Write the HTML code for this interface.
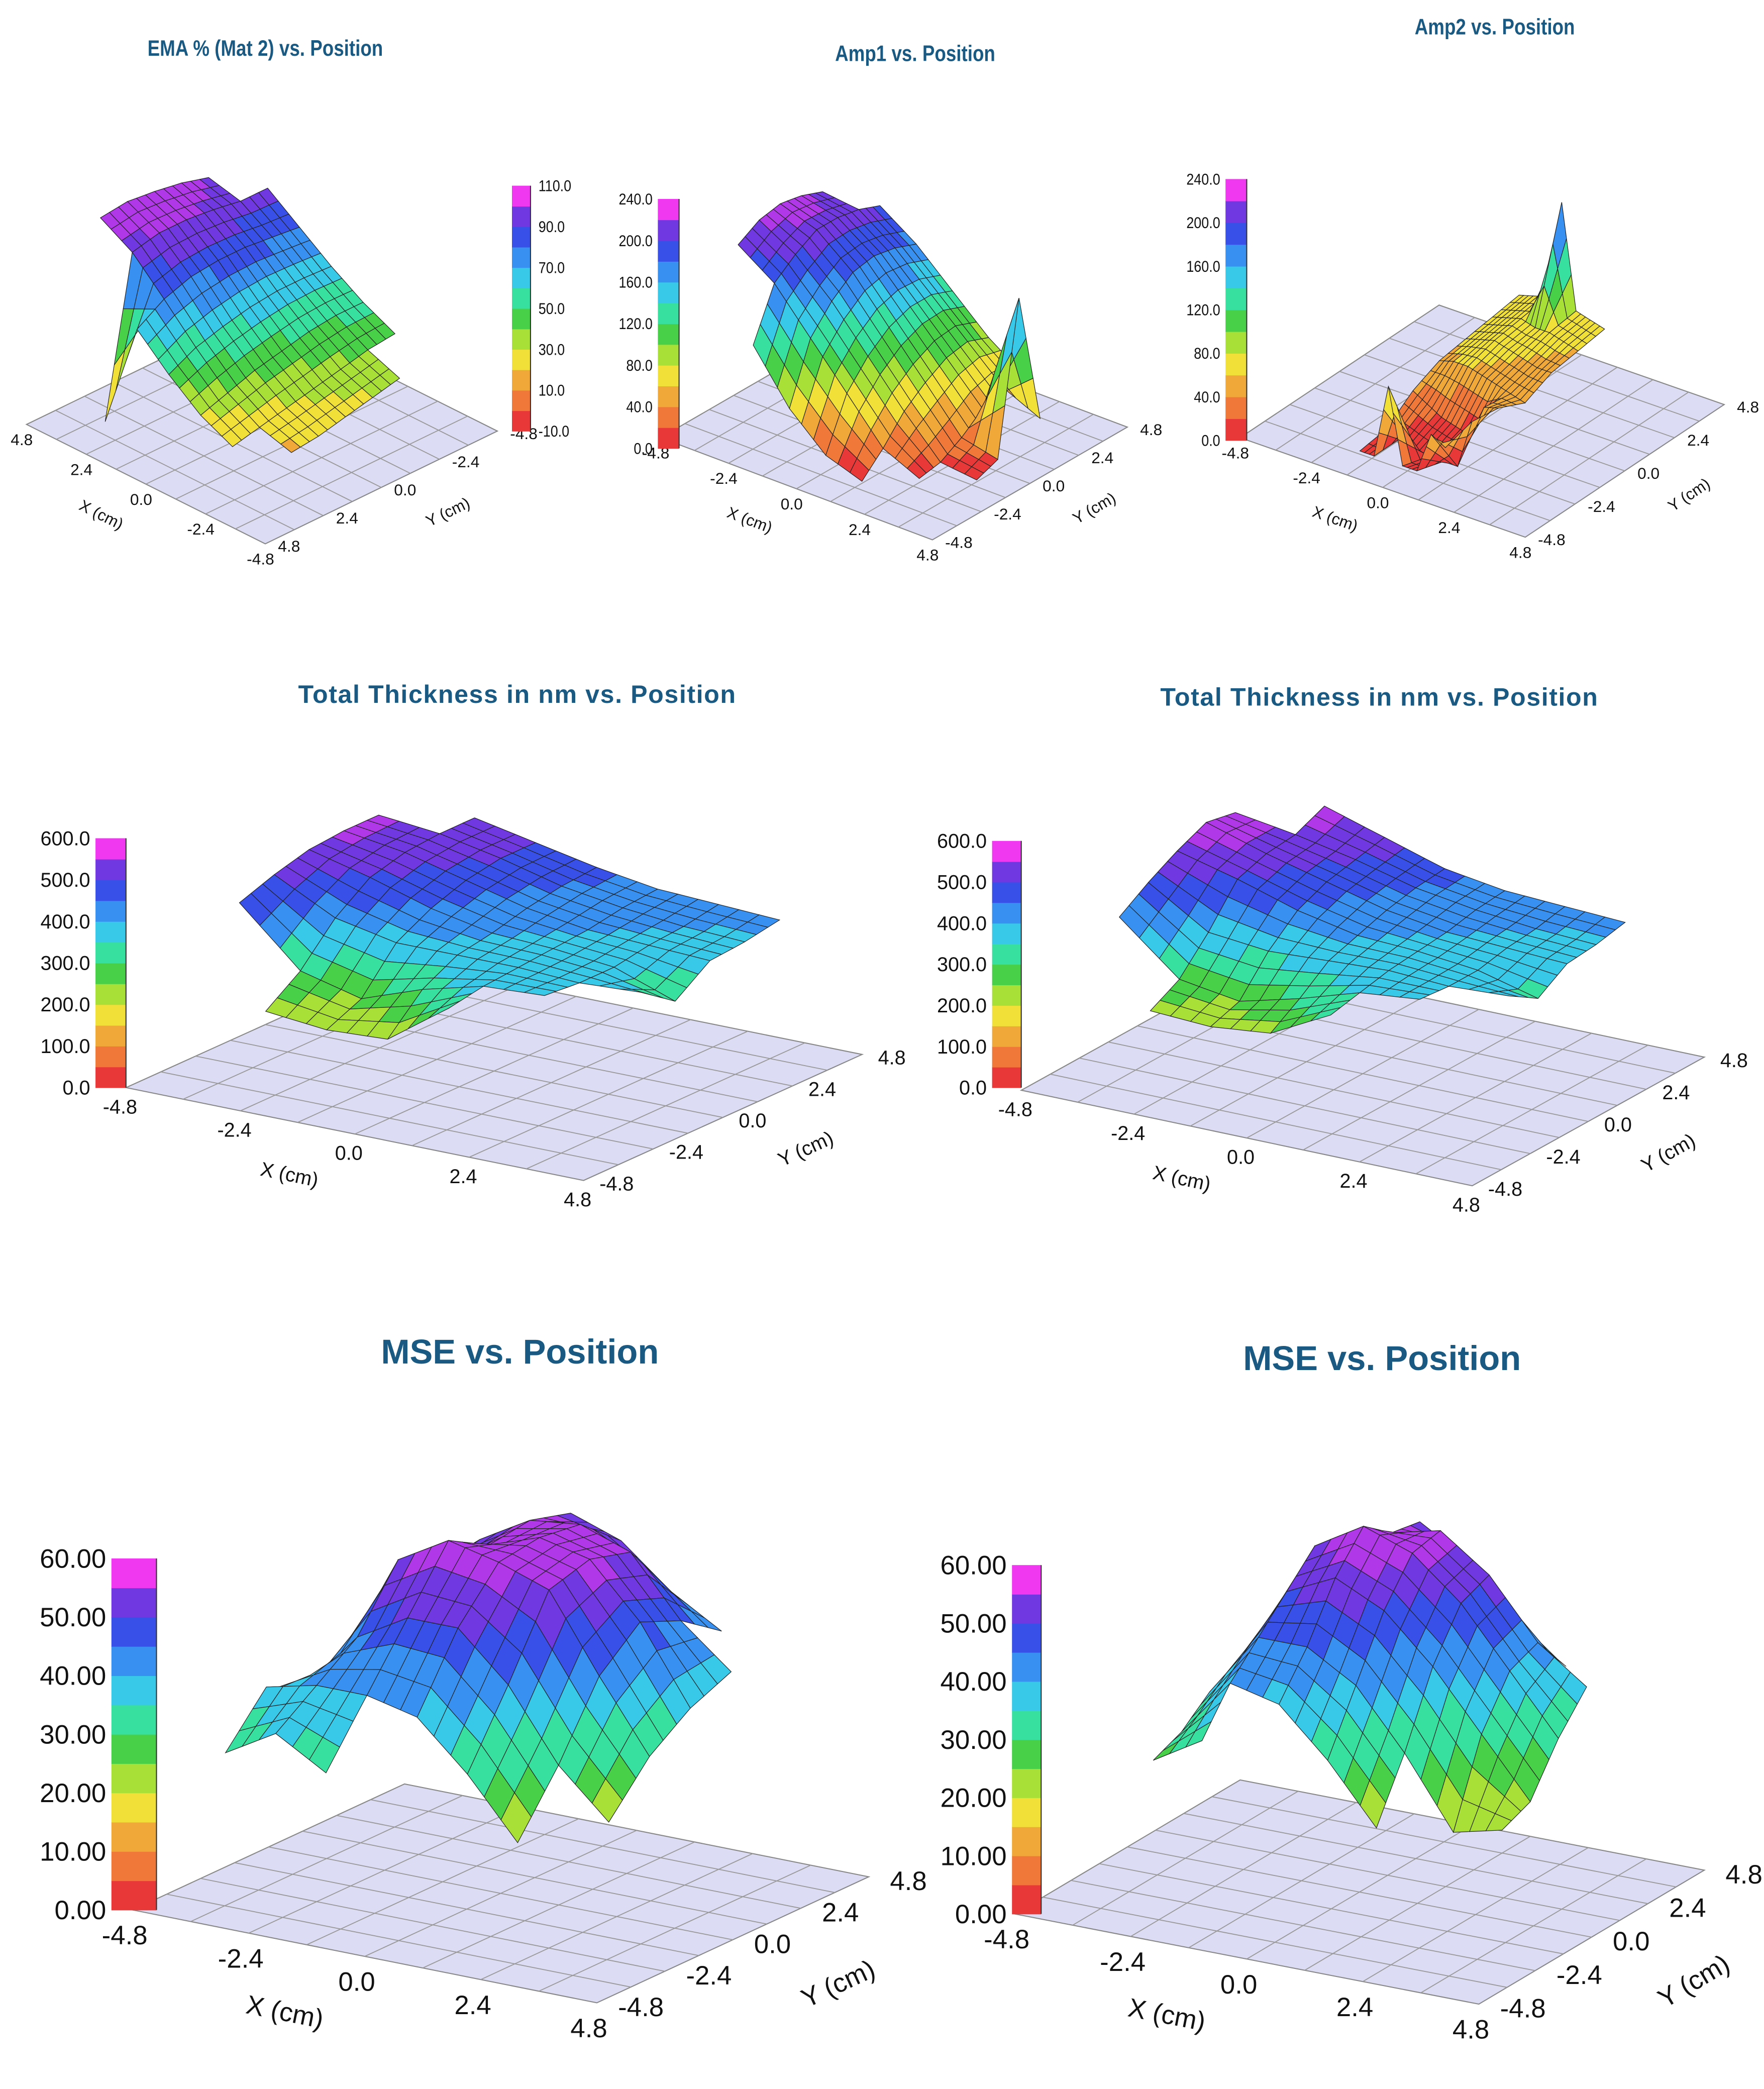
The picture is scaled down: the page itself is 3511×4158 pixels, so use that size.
<!DOCTYPE html>
<html><head><meta charset="utf-8">
<style>
html,body{margin:0;padding:0;background:#fff;}
svg{display:block;}
text{font-family:"Liberation Sans",sans-serif;}
</style></head>
<body>
<svg id="root" width="3511" height="4158" viewBox="0 0 1330 1575" preserveAspectRatio="none" xmlns="http://www.w3.org/2000/svg"></svg>
<script>
// ---- data (rows: back->left edge, cols: back->right edge) ----
const emaZ=[
[null,95,80,65,52,42,null],
[100,95,82,66,52,40,32],
[105,98,84,66,50,36,28],
[108,100,84,64,46,32,24],
[110,100,82,60,42,28,20],
[108,96,76,55,36,24,18],
[null,-5,65,46,30,20,null]];
const amp1Z=[
[null,200,170,130,90,60,null],
[215,210,180,140,100,60,40],
[225,215,185,140,95,50,200],
[230,215,180,130,80,30,20],
[225,200,160,110,60,15,10],
[210,180,130,80,30,10,null],
[null,120,60,20,5,null,null]];
const amp2Z=[
[70,75,80,200,75,70,65],
[65,70,75,70,70,65,60],
[60,65,70,65,60,55,55],
[55,60,60,55,50,45,40],
[40,30,20,15,10,50,55],
[15,10,5,0,0,0,60],
[10,10,100,10,10,60,50]];
const thick1Z=[
[null,540,500,460,430,420,410],
[560,540,500,450,420,400,390],
[560,530,480,430,400,390,380],
[550,500,440,400,390,370,300],
[520,420,380,380,380,370,380],
[480,300,250,320,370,380,null],
[null,220,200,210,350,null,null]];
const thick2Z=[
[null,580,520,460,430,420,410],
[570,540,500,450,420,400,390],
[590,530,480,430,400,390,380],
[550,500,440,400,390,370,320],
[500,380,360,370,380,370,380],
[440,280,250,300,360,380,null],
[null,230,220,240,340,null,null]];
const mse1Z=[
[null,50,55,52,45,40,null],
[45,52,57,58,55,45,38],
[40,50,56,59,57,48,35],
[38,55,60,58,55,42,30],
[35,45,50,50,42,30,22],
[38,40,40,38,30,20,null],
[30,35,30,null,null,null,null]];
const mse2Z=[
[null,45,55,50,40,35,null],
[40,50,56,58,52,42,36],
[38,55,60,57,50,40,30],
[36,50,54,50,42,32,22],
[34,45,45,40,30,18,20],
[30,40,38,30,20,null,null],
[28,33,null,null,null,null,null]];
const titles=["EMA % (Mat 2) vs. Position","Amp1 vs. Position","Amp2 vs. Position","Total Thickness in nm vs. Position","Total Thickness in nm vs. Position","MSE vs. Position","MSE vs. Position"];
const ticksA=["4.8","2.4","0.0","-2.4","-4.8"];
const ticksB=["-4.8","-2.4","0.0","2.4","4.8"];
const cbEma=["110.0","90.0","70.0","50.0","30.0","10.0","-10.0"];
const cbAmp=["240.0","200.0","160.0","120.0","80.0","40.0","0.0"];
const cbThick=["600.0","500.0","400.0","300.0","200.0","100.0","0.0"];
const cbMse=["60.00","50.00","40.00","30.00","20.00","10.00","0.00"];

const colors=["#e83838","#f07838","#f0a838","#f0e038","#a8e038","#48d048","#38e0a0","#38c8e8","#3890f0","#3850e8","#7038e0","#b038e8","#f038f0"];
const svg=document.getElementById('root');
const NS="http://www.w3.org/2000/svg";
function mk(tag,attrs,parent){const e=document.createElementNS(NS,tag);for(const k in attrs)e.setAttribute(k,attrs[k]);(parent||svg).appendChild(e);return e;}

const panels=[
{Z:emaZ,vmin:-10,vmax:110,back:[195,235],left:[20,320],right:[375,325],zs:140,ir:[0.15,0.85],jr:[0.05,0.85],cb:[386,140,14,185],cbT:cbEma,xT:ticksA,yT:ticksA,fs:12,title:[200,42,17,"condensed"]},
{Z:amp1Z,vmin:0,vmax:240,back:[645,245],left:[498,330],right:[850,322],zs:150,ir:[0.2,0.85],jr:[0.1,0.9],cb:[496,150,16,188],cbT:cbAmp,xT:ticksB,yT:ticksB,fs:12,title:[690,46,17,"condensed"]},
{Z:amp2Z,vmin:0,vmax:240,back:[1085,230],left:[935,330],right:[1300,305],zs:150,ir:[0.1,0.9],jr:[0.35,0.65],cb:[924,135,16,197],cbT:cbAmp,xT:ticksB,yT:ticksB,fs:12,title:[1127,26,17,"condensed"]},
{Z:thick1Z,vmin:0,vmax:600,back:[305,725],left:[95,820],right:[650,795],zs:140,ir:[0.05,0.8],jr:[0.05,0.85],cb:[72,632,23,188],cbT:cbThick,xT:ticksB,yT:ticksB,fs:15,title:[390,530,20,"wide"]},
{Z:thick2Z,vmin:0,vmax:600,back:[945,725],left:[770,822],right:[1285,797],zs:140,ir:[0.05,0.8],jr:[0.05,0.85],cb:[748,634,22,186],cbT:cbThick,xT:ticksB,yT:ticksB,fs:15,title:[1040,532,20,"wide"]},
{Z:mse1Z,vmin:0,vmax:60,back:[305,1345],left:[100,1440],right:[655,1415],zs:265,ir:[0.1,1.0],jr:[0.2,0.85],cb:[84,1175,34,265],cbT:cbMse,xT:ticksB,yT:ticksB,fs:20,title:[392,1028,26,"bold"]},
{Z:mse2Z,vmin:0,vmax:60,back:[935,1342],left:[765,1443],right:[1285,1410],zs:263,ir:[0.15,0.9],jr:[0.25,0.88],cb:[763,1180,22,263],cbT:cbMse,xT:ticksB,yT:ticksB,fs:20,title:[1042,1033,26,"bold"]}
];

panels.forEach((p,pi)=>{
  const g=mk('g',{});
  
  
  const B=p.back,L=p.left,R=p.right,F=[L[0]+R[0]-B[0],L[1]+R[1]-B[1]];
  const fl=(i,j)=>[B[0]+i*(L[0]-B[0])+j*(R[0]-B[0]),B[1]+i*(L[1]-B[1])+j*(R[1]-B[1])];
  const [tx,ty,tf,st]=p.title;
  const t=mk('text',{x:tx,y:ty,'text-anchor':'middle','font-size':tf,'font-weight':'bold',fill:'#1a5a82'},g);
  if(st==="condensed"){t.setAttribute('transform',`translate(${tx},${ty}) scale(0.82,1) translate(${-tx},${-ty})`);}
  if(st==="wide"){t.setAttribute('letter-spacing','0.6');t.setAttribute('font-size',tf*0.95);}
  t.textContent=titles[pi];
  
  
  const floor=mk('polygon',{points:[B,L,F,R].map(q=>q.join(',')).join(' '),fill:'#dcdcf4',stroke:'#888','stroke-width':0.8},g);
  
  
  for(let k=1;k<8;k++){
    const a=fl(k/8,0),b=fl(k/8,1),c=fl(0,k/8),d=fl(1,k/8);
    mk('line',{x1:a[0],y1:a[1],x2:b[0],y2:b[1],stroke:'#999','stroke-width':0.7},g);
    mk('line',{x1:c[0],y1:c[1],x2:d[0],y2:d[1],stroke:'#999','stroke-width':0.7},g);
  }
  const fs=p.fs;
  p.xT.forEach((lab,k)=>{
    const q=fl(1,k/4);
    const e=mk('text',{x:q[0]-fs*0.3,y:q[1]+fs*1.3,'text-anchor':'middle','font-size':fs,fill:'#111'},g);
    e.textContent=lab;
    
    
  });
  p.yT.forEach((lab,k)=>{
    const q=fl(1-k/4,1);
    const e=mk('text',{x:q[0]+fs*0.8,y:q[1]+fs*0.5,'text-anchor':'start','font-size':fs,fill:'#111'},g);
    e.textContent=lab;
    
    
  });
  const xa=fl(1,0.45),ya=fl(0.45,1);
  const angX=Math.atan2(F[1]-L[1],F[0]-L[0])*180/Math.PI;
  const angY=Math.atan2(R[1]-F[1],R[0]-F[0])*180/Math.PI;
  const xt=mk('text',{x:xa[0]-fs*2.2,y:xa[1]+fs*2.6,'text-anchor':'middle','font-size':fs,fill:'#111',transform:`rotate(${angX},${xa[0]-fs*2.2},${xa[1]+fs*2.6})`},g);
  xt.textContent="X (cm)";
  
  
  const yt=mk('text',{x:ya[0]+fs*3.6,y:ya[1]+fs*2.2,'text-anchor':'middle','font-size':fs,fill:'#111',transform:`rotate(${angY},${ya[0]+fs*3.6},${ya[1]+fs*2.2})`},g);
  yt.textContent="Y (cm)";
  
  
  const [cx,cy,cw,ch]=p.cb;const nb=12;
  for(let b=0;b<nb;b++){
    const r=mk('rect',{x:cx,y:cy+ch-(b+1)*ch/nb,width:cw,height:ch/nb+0.3,fill:colors[Math.min(12,b+(b>=11?1:0))]},g);
    
    
  }
  mk('line',{x1:cx+cw,y1:cy,x2:cx+cw,y2:cy+ch,stroke:'#333','stroke-width':0.8},g);
  p.cbT.forEach((lab,k)=>{
    const yy=cy+k*ch/(p.cbT.length-1)+fs*0.35;
    const lx=pi===0?cx+cw+6:cx-4;
    const e=mk('text',{x:lx,y:yy,'text-anchor':pi===0?'start':'end','font-size':fs,fill:'#111'},g);
    if(pi<3){e.setAttribute('transform',`translate(${lx},${yy}) scale(0.85,1) translate(${-lx},${-yy})`);}
    e.textContent=lab;
    
    
  });
  const Z=p.Z,n=Z.length,m=Z[0].length;
  const I=(i)=>p.ir[0]+(p.ir[1]-p.ir[0])*i/(n-1);
  const J=(j)=>p.jr[0]+(p.jr[1]-p.jr[0])*j/(m-1);
  const cells=[];
  for(let i=0;i<n-1;i++)for(let j=0;j<m-1;j++){
    const vs=[Z[i][j],Z[i+1][j],Z[i+1][j+1],Z[i][j+1]];
    if(vs.some(v=>v===null))continue;
    cells.push([i,j,vs]);
  }
  cells.sort((a,b)=>(a[0]+a[1])-(b[0]+b[1]));
  const S=3;
  cells.forEach(([i,j,vs])=>{
    for(let a=0;a<S;a++)for(let b=0;b<S;b++){
      const u0=a/S,u1=(a+1)/S,w0=b/S,w1=(b+1)/S;
      const bil=(u,w)=>vs[0]*(1-u)*(1-w)+vs[1]*u*(1-w)+vs[2]*u*w+vs[3]*(1-u)*w;
      const pt=(u,w)=>{const q=fl(I(i+u),J(j+w));return [q[0],q[1]-(bil(u,w)-p.vmin)/(p.vmax-p.vmin)*p.zs];};
      const pts=[pt(u0,w0),pt(u1,w0),pt(u1,w1),pt(u0,w1)];
      const avg=bil((u0+u1)/2,(w0+w1)/2);
      let ci=Math.floor((avg-p.vmin)/(p.vmax-p.vmin)*12);ci=Math.max(0,Math.min(12,ci));
      const poly=mk('polygon',{points:pts.map(q=>q[0].toFixed(1)+','+q[1].toFixed(1)).join(' '),fill:colors[ci],stroke:'#222','stroke-width':0.45},g);
      
      
    }
  });
});
</script>
</body></html>
